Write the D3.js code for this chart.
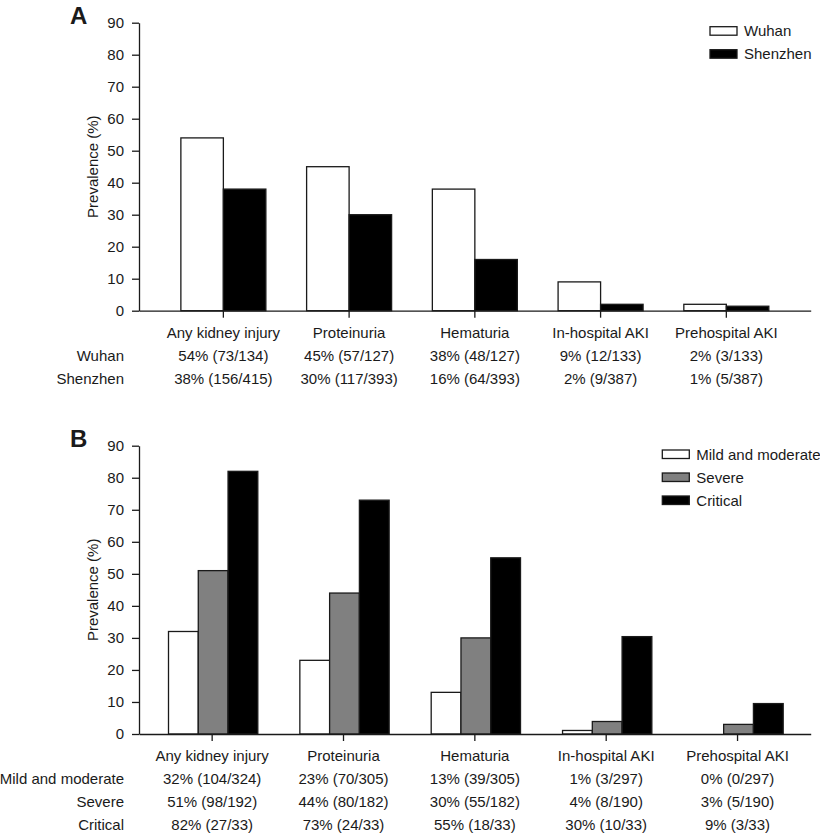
<!DOCTYPE html>
<html>
<head>
<meta charset="utf-8">
<script src="https://cdn.jsdelivr.net/npm/d3@7"></script>
<style>
  html, body { margin: 0; padding: 0; background: #fff; }
  svg { display: block; font-family: "Liberation Sans", Arial, Helvetica, sans-serif; }
</style>
</head>
<body>
<svg id="chart" width="820" height="835"></svg>
<script>
// ---------- data ----------
const categories = ["Any kidney injury", "Proteinuria", "Hematuria", "In-hospital AKI", "Prehospital AKI"];
const yTicks = [0, 10, 20, 30, 40, 50, 60, 70, 80, 90];

// Panel A
const seriesA = ["Wuhan", "Shenzhen"];
const wuhanValues = [54, 45, 38, 9, 2];
const shenzhenValues = [38, 30, 16, 2, 1.4];
const wuhanTable = ["54% (73/134)", "45% (57/127)", "38% (48/127)", "9% (12/133)", "2% (3/133)"];
const shenzhenTable = ["38% (156/415)", "30% (117/393)", "16% (64/393)", "2% (9/387)", "1% (5/387)"];

// Panel B
const seriesB = ["Mild and moderate", "Severe", "Critical"];
const mildValues = [32, 23, 13, 1.1, 0];
const severeValues = [51, 44, 30, 3.9, 3];
const criticalValues = [82, 73, 55, 30.4, 9.5];
const mildTable = ["32% (104/324)", "23% (70/305)", "13% (39/305)", "1% (3/297)", "0% (0/297)"];
const severeTable = ["51% (98/192)", "44% (80/182)", "30% (55/182)", "4% (8/190)", "3% (5/190)"];
const criticalTable = ["82% (27/33)", "73% (24/33)", "55% (18/33)", "30% (10/33)", "9% (3/33)"];

// ---------- drawing ----------
const svg = d3.select("#chart");
const ink = "#1a1a1a";

function panel(cfg) {
  const g = svg.append("g");
  const x0 = d3.scaleBand().domain(categories).range([139, 810.7])
    .paddingInner(0).paddingOuter(cfg.padOuter);
  const y = d3.scaleLinear().domain([0, 90]).range([cfg.yBottom, cfg.yTop]);
  const groupW = x0.step() * cfg.groupFrac;
  const x1 = d3.scaleBand().domain(cfg.series).range([-groupW / 2, groupW / 2]);
  const color = d3.scaleOrdinal().domain(cfg.series).range(cfg.colors);

  // bars
  const rows = categories.map((c, i) => ({ c, vals: cfg.values.map((v, k) => ({ s: cfg.series[k], v: v[i] })) }));
  const grp = g.selectAll("g.grp").data(rows).join("g")
    .attr("transform", d => `translate(${x0(d.c) + x0.bandwidth() / 2 + cfg.shift},0)`);
  grp.selectAll("rect").data(d => d.vals.filter(e => e.v > 0)).join("rect")
    .attr("x", d => x1(d.s))
    .attr("width", x1.bandwidth())
    .attr("y", d => y(d.v))
    .attr("height", d => y(0) - y(d.v))
    .attr("fill", d => color(d.s))
    .attr("stroke", ink)
    .attr("stroke-width", 1.3);

  // y axis
  const ya = g.append("g").attr("transform", "translate(139,0)")
    .call(d3.axisLeft(y).tickValues(yTicks).tickSize(7).tickSizeOuter(0).tickPadding(8));
  ya.select(".domain").attr("stroke", ink).attr("stroke-width", 1.3);
  ya.selectAll(".tick line").attr("stroke", ink).attr("stroke-width", 1.3);
  ya.selectAll(".tick text").attr("fill", ink).style("font-size", "15px")
    .style("font-family", "'Liberation Sans', Arial, sans-serif");

  // x axis
  const xa = g.append("g").attr("transform", `translate(0,${cfg.yBottom})`)
    .call(d3.axisBottom(x0).tickSize(7).tickSizeOuter(0).tickFormat(""));
  xa.select(".domain").attr("stroke", ink).attr("stroke-width", 1.3);
  xa.selectAll(".tick line").attr("stroke", ink).attr("stroke-width", 1.3);

  // y title
  g.append("text")
    .attr("transform", `translate(98,${(cfg.yTop + cfg.yBottom) / 2}) rotate(-90)`)
    .attr("text-anchor", "middle")
    .attr("fill", ink).style("font-size", "15px")
    .text("Prevalence (%)");

  // panel letter
  g.append("text").attr("x", 70).attr("y", cfg.yTop + 1.5)
    .attr("fill", ink).style("font-size", "24px").style("font-weight", "bold")
    .text(cfg.letter);

  // legend
  const lg = g.append("g");
  cfg.series.forEach((s, k) => {
    const ly = cfg.legendY + k * 23;
    lg.append("rect").attr("x", cfg.legendX).attr("y", ly).attr("width", 27).attr("height", 8.5)
      .attr("fill", color(s)).attr("stroke", ink).attr("stroke-width", 1.3);
    lg.append("text").attr("x", cfg.legendX + 34).attr("y", ly + 9.5)
      .attr("fill", ink).style("font-size", "15px").text(s);
  });

  // table
  const tBase = cfg.yBottom + 27;
  const tg = g.append("g").attr("fill", ink).style("font-size", "15px");
  tg.selectAll("text.cat").data(categories).join("text")
    .attr("class", "cat")
    .attr("x", d => x0(d) + x0.bandwidth() / 2 + cfg.tableShift)
    .attr("y", tBase)
    .attr("text-anchor", "middle")
    .text(d => d);
  cfg.tables.forEach((row, k) => {
    const ry = tBase + 23 * (k + 1);
    tg.append("text").attr("x", 124).attr("y", ry).attr("text-anchor", "end").text(cfg.series[k]);
    tg.selectAll(null).data(row).join("text")
      .attr("x", (d, i) => x0(categories[i]) + x0.bandwidth() / 2 + cfg.tableShift)
      .attr("y", ry)
      .attr("text-anchor", "middle")
      .text(d => d);
  });
}

panel({
  letter: "A",
  series: seriesA,
  values: [wuhanValues, shenzhenValues],
  tables: [wuhanTable, shenzhenTable],
  colors: ["#ffffff", "#000000"],
  yTop: 22.7, yBottom: 310.7,
  padOuter: 0.171, groupFrac: 0.676, shift: 0, tableShift: 0,
  legendX: 710, legendY: 26.7
});

panel({
  letter: "B",
  series: seriesB,
  values: [mildValues, severeValues, criticalValues],
  tables: [mildTable, severeTable, criticalTable],
  colors: ["#ffffff", "#808080", "#000000"],
  yTop: 445.7, yBottom: 734,
  padOuter: 0.057, groupFrac: 0.68, shift: 1, tableShift: 0,
  legendX: 662.3, legendY: 450
});
</script>
</body>
</html>
